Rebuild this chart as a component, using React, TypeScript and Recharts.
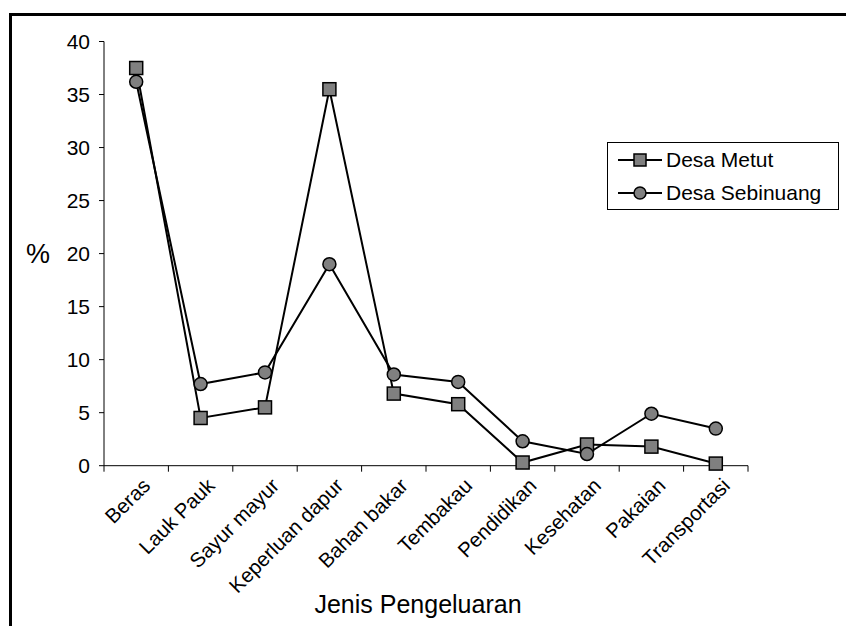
import { Label, Line, LineChart, XAxis, YAxis } from "recharts";

const categories = [
  "Beras",
  "Lauk Pauk",
  "Sayur mayur",
  "Keperluan dapur",
  "Bahan bakar",
  "Tembakau",
  "Pendidikan",
  "Kesehatan",
  "Pakaian",
  "Transportasi",
];
const metut = [37.5, 4.5, 5.5, 35.5, 6.8, 5.8, 0.3, 2.0, 1.8, 0.2];
const sebinuang = [36.2, 7.7, 8.8, 19.0, 8.6, 7.9, 2.3, 1.1, 4.9, 3.5];
const yTicks = [0, 5, 10, 15, 20, 25, 30, 35, 40];
// boundaries between categories, where the Excel-style tick marks sit
const boundaries = [0, 1, 2, 3, 4, 5, 6, 7, 8, 9, 10];

const FONT = "'Liberation Sans', Arial, sans-serif";
const GREY = "#808080";

const rows = categories.map((name, i) => ({
  name,
  pos: i + 0.5, // middle of the category slot on the numeric tick axis
  metut: metut[i],
  sebinuang: sebinuang[i],
}));

function SquareDot(props: any) {
  const { cx, cy } = props;
  if (cx == null || cy == null) return null;
  return <rect x={cx - 6.5} y={cy - 6.5} width={13} height={13} fill={GREY} stroke="#000" strokeWidth={1.5} />;
}

function CircleDot(props: any) {
  const { cx, cy } = props;
  if (cx == null || cy == null) return null;
  return <circle cx={cx} cy={cy} r={6.5} fill={GREY} stroke="#000" strokeWidth={1.5} />;
}

// tick marks only, no text
const NoText = () => <g />;

function SlantTick(props: any) {
  const { x, y, payload } = props;
  return (
    <g transform={`translate(${x + 5},${y + 3})`}>
      <text
        transform="rotate(-45)"
        textAnchor="end"
        dy="0.71em"
        fontSize={20.5}
        fontFamily={FONT}
        fill="#000"
      >
        {payload.value}
      </text>
    </g>
  );
}

function LegendBox() {
  const item = (label: string, square: boolean) => (
    <div style={{ display: "flex", alignItems: "center", height: 35 }}>
      <svg width={46} height={16} style={{ marginRight: 3 }}>
        <line x1={1} y1={8} x2={45} y2={8} stroke="#000" strokeWidth={2} />
        {square ? (
          <rect x={17} y={2} width={12} height={12} fill={GREY} stroke="#000" strokeWidth={1.5} />
        ) : (
          <circle cx={23} cy={8} r={6} fill={GREY} stroke="#000" strokeWidth={1.5} />
        )}
      </svg>
      <span style={{ fontSize: 21, fontFamily: FONT, color: "#000" }}>{label}</span>
    </div>
  );
  return (
    <div
      style={{
        position: "absolute",
        left: 607,
        top: 142,
        width: 221,
        height: 66,
        paddingLeft: 9,
        border: "1px solid #000",
        background: "#fff",
        display: "flex",
        flexDirection: "column",
        justifyContent: "center",
      }}
    >
      {item("Desa Metut", true)}
      {item("Desa Sebinuang", false)}
    </div>
  );
}

export default function App() {
  return (
    <div
      style={{
        position: "absolute",
        left: 0,
        top: 0,
        width: 846,
        height: 626,
        overflow: "hidden",
        background: "#fff",
      }}
    >
      <div
        style={{
          position: "absolute",
          left: 9,
          top: 13,
          width: 900,
          height: 700,
          borderTop: "3px solid #000",
          borderLeft: "3px solid #000",
        }}
      />
      <LineChart
        width={846}
        height={626}
        data={rows}
        margin={{ top: 41.5, right: 98, bottom: 0, left: 0 }}
        style={{ position: "absolute", left: 0, top: 0 }}
      >
        <XAxis
          xAxisId="axis"
          type="number"
          dataKey="pos"
          domain={[0, 10]}
          ticks={boundaries}
          tick={<NoText />}
          tickSize={6}
          height={6}
          stroke="#000"
          allowDataOverflow
        />
        <XAxis
          xAxisId="labels"
          dataKey="name"
          scale="band"
          interval={0}
          axisLine={false}
          tickLine={false}
          tickSize={0}
          tick={<SlantTick />}
          height={154.3}
        >
          <Label
            value="Jenis Pengeluaran"
            position="insideBottom"
            offset={13}
            dx={-8}
            style={{ fontSize: 25, fontFamily: FONT, fill: "#000" }}
          />
        </XAxis>
        <YAxis
          domain={[0, 40]}
          ticks={yTicks}
          width={104}
          tickSize={5}
          tickMargin={9}
          stroke="#000"
          tick={{ fontSize: 21, fontFamily: FONT, fill: "#000" }}
        >
          <Label
            value="%"
            position="insideLeft"
            offset={26}
            style={{ fontSize: 27, fontFamily: FONT, fill: "#000" }}
          />
        </YAxis>
        <Line
          xAxisId="axis"
          dataKey="metut"
          name="Desa Metut"
          stroke="#000"
          strokeWidth={2}
          dot={<SquareDot />}
          isAnimationActive={false}
        />
        <Line
          xAxisId="axis"
          dataKey="sebinuang"
          name="Desa Sebinuang"
          stroke="#000"
          strokeWidth={2}
          dot={<CircleDot />}
          isAnimationActive={false}
        />
      </LineChart>
      <LegendBox />
    </div>
  );
}
